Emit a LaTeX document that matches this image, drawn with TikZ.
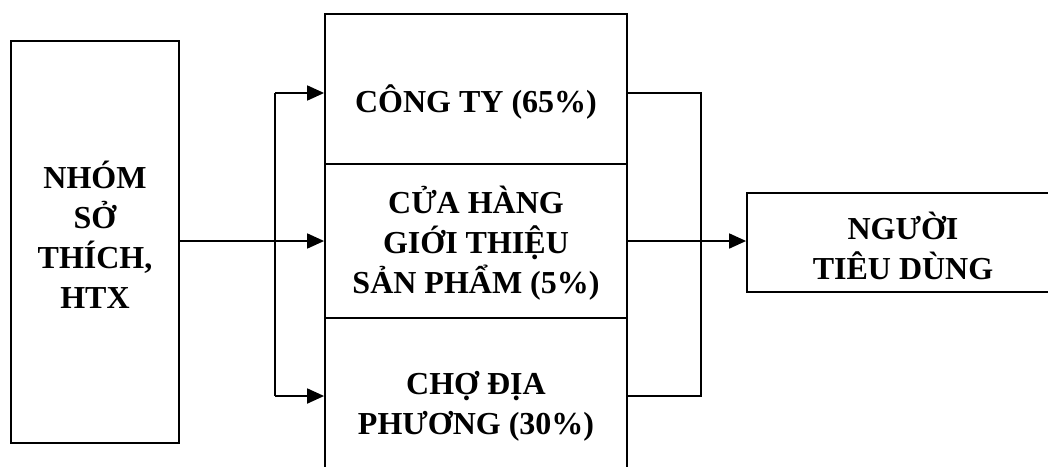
\documentclass[tikz,border=0pt]{standalone}
\usepackage{fontspec}
\setmainfont{Liberation Serif}
\usetikzlibrary{arrows.meta}
\begin{document}
\begin{tikzpicture}[x=1pt,y=-1pt,
  box/.style={draw,line width=1.8pt,inner sep=0pt},
  lbl/.style={align=center,font=\bfseries\fontsize{32}{40}\selectfont,inner sep=0pt},
  conn/.style={line width=1.8pt},
  arr/.style={conn,-{Triangle[length=17pt,width=15pt]}}]
\useasboundingbox (0,0) rectangle (1048,466);
\clip (0,0) rectangle (1048,466);
% boxes
\node[box,minimum width=168pt,minimum height=402pt] (src) at (95,242) {};
\node[box,minimum width=302pt,minimum height=150pt] (cty) at (476,89) {};
\node[box,minimum width=302pt,minimum height=154pt] (ch) at (476,241) {};
\node[box,minimum width=302pt,minimum height=172pt] (cho) at (476,404) {};
\node[box,minimum width=312pt,minimum height=99pt] (dst) at (903,242.5) {};
% texts
\node[lbl] (tsrc) at (95,235) {NHÓM\\SỞ\\THÍCH,\\HTX};
\node[lbl] (tcty) at (476,102) {CÔNG TY (65\%)};
\node[lbl] (tch) at (476,243) {CỬA HÀNG\\GIỚI THIỆU\\SẢN PHẨM (5\%)};
\node[lbl] (tcho) at (476,406) {CHỢ ĐỊA\\PHƯƠNG (30\%)};
\node[lbl] (tdst) at (903,246) {NGƯỜI\\TIÊU DÙNG};
% connectors
\coordinate (jtop) at (275,93);
\coordinate (jbot) at (275,396);
\coordinate (ktop) at (701,93);
\coordinate (kbot) at (701,396);
\draw[arr] (src.east |- ch.west) -- (ch.west);
\draw[conn] (jtop) -- (jbot);
\draw[arr] (jtop) -- (jtop -| cty.west);
\draw[arr] (jbot) -- (jbot -| cho.west);
\draw[conn] (ktop -| cty.east) -- (ktop) -- (kbot) -- (kbot -| cho.east);
\draw[arr] (ch.east) -- (ch.east -| dst.west);
\end{tikzpicture}
\end{document}
